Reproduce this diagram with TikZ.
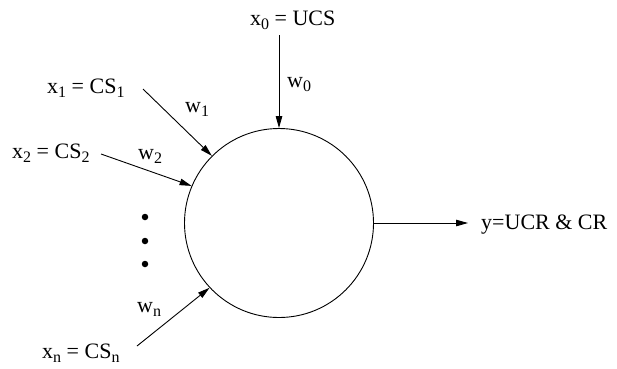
\documentclass[tikz,border=0pt]{standalone}
\usepackage{fontspec}
\setmainfont{Liberation Serif}
\usetikzlibrary{arrows.meta}
\newcommand{\sbs}[1]{\raisebox{-4pt}{\fontsize{16}{16}\selectfont #1}}
\tikzset{
  lbl/.style={anchor=base west, inner sep=0pt, font=\fontsize{22}{26}\selectfont},
  conn/.style={line width=0.9pt, -{Triangle[length=12pt,width=6.5pt]}},
  dotmark/.style={circle, fill=black, inner sep=0pt, minimum size=6.5pt},
  neuron/.style={circle, draw, line width=0.9pt, minimum size=189pt, inner sep=0pt}
}
\begin{document}
\begin{tikzpicture}[x=1pt,y=-1pt]
\useasboundingbox (0,0) rectangle (617,368);
\node[neuron] (c) at (279,223) {};
% labels
\node[lbl] (x0) at (250,25) {x\sbs{0} = UCS};
\node[lbl] (x1) at (47,93) {x\sbs{1} = CS\sbs{1}};
\node[lbl] (x2) at (12,158) {x\sbs{2} = CS\sbs{2}};
\node[lbl] (xn) at (42,358) {x\sbs{n} = CS\sbs{n}};
\node[lbl] (w0) at (287,87) {w\sbs{0}};
\node[lbl] (w1) at (185,112) {w\sbs{1}};
\node[lbl] (w2) at (138,159) {w\sbs{2}};
\node[lbl] (wn) at (137,312) {w\sbs{n}};
\node[lbl] (y) at (481,229) {y=UCR \& CR};
% dots
\node[dotmark] (d1) at (145,217) {};
\node[dotmark] (d2) at (145,241) {};
\node[dotmark] (d3) at (145,264) {};
% connector ends
\coordinate (a0) at (279,35);
\coordinate (a1) at (143,89);
\coordinate (a2) at (101,154);
\coordinate (an) at (137,346);
\coordinate (yo) at (468,223);
% connectors
\draw[conn] (a0) -- (c.north);
\draw[conn] (a1) -- (c.135);
\draw[conn] (a2) -- (c.157);
\draw[conn] (an) -- (c.223);
\draw[conn] (c.east) -- (yo);
\end{tikzpicture}
\end{document}
